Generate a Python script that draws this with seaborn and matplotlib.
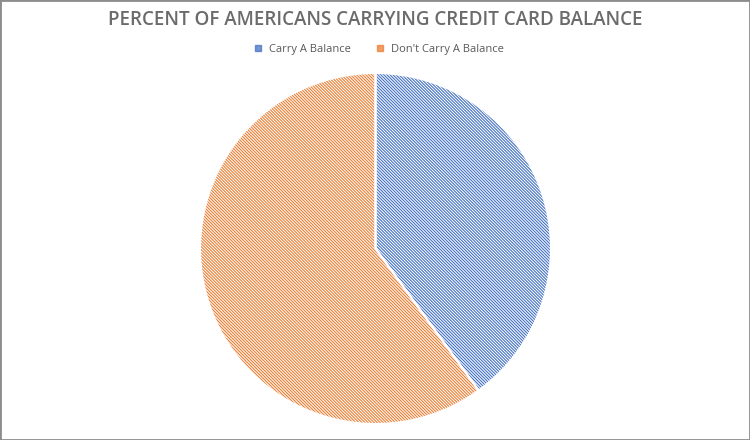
import matplotlib
matplotlib.use("Agg")
import matplotlib.pyplot as plt
import seaborn as sns
from matplotlib.lines import Line2D

labels = ["Carry A Balance", "Don't Carry A Balance"]
values = [40, 60]
colors = ["#4472C4", "#ED7D31"]

sns.set_theme(style="white")
plt.rcParams["font.family"] = ["Open Sans", "DejaVu Sans"]
plt.rcParams["hatch.linewidth"] = 0.8

fig = plt.figure(figsize=(7.5, 4.4), dpi=100)
ax = fig.add_axes([0.2667, 0.0364, 0.468, 0.7977])

# hatched fill
wedges, _ = ax.pie(
    values,
    colors=["white"] * len(values),
    startangle=90,
    counterclock=False,
    radius=1,
    wedgeprops=dict(linewidth=0),
)
for w, c in zip(wedges, colors):
    w.set_edgecolor(c)
    w.set_hatch("\\" * 11)

# white outline between slices
ax.pie(
    values,
    colors=["none"] * len(values),
    startangle=90,
    counterclock=False,
    radius=1,
    wedgeprops=dict(linewidth=1.5, edgecolor="white", fill=False),
)
ax.set_xlim(-1.0, 1.0)
ax.set_ylim(-1.0, 1.0)
ax.set_aspect("equal")
ax.axis("off")

fig.text(
    0.5, 0.955,
    "PERCENT OF AMERICANS CARRYING CREDIT CARD BALANCE",
    ha="center", va="center",
    fontsize=13.5, fontweight="semibold", color="#6b6b6b",
)

handles = [
    Line2D([], [], marker="s", linestyle="none", markersize=4,
           markerfacecolor=c, markeredgecolor=c, alpha=0.75)
    for c in colors
]
fig.legend(
    handles, labels,
    loc="center", bbox_to_anchor=(0.5, 0.888),
    ncol=2, frameon=False, fontsize=8,
    handletextpad=0.0, columnspacing=1.6,
    labelcolor="#595959",
)

# outer frame
fig.patches.append(plt.Rectangle((0, 0), 1, 1, transform=fig.transFigure,
                                 fill=False, edgecolor="#8c8c8c", linewidth=2))

fig.savefig("out.png", dpi=100)
